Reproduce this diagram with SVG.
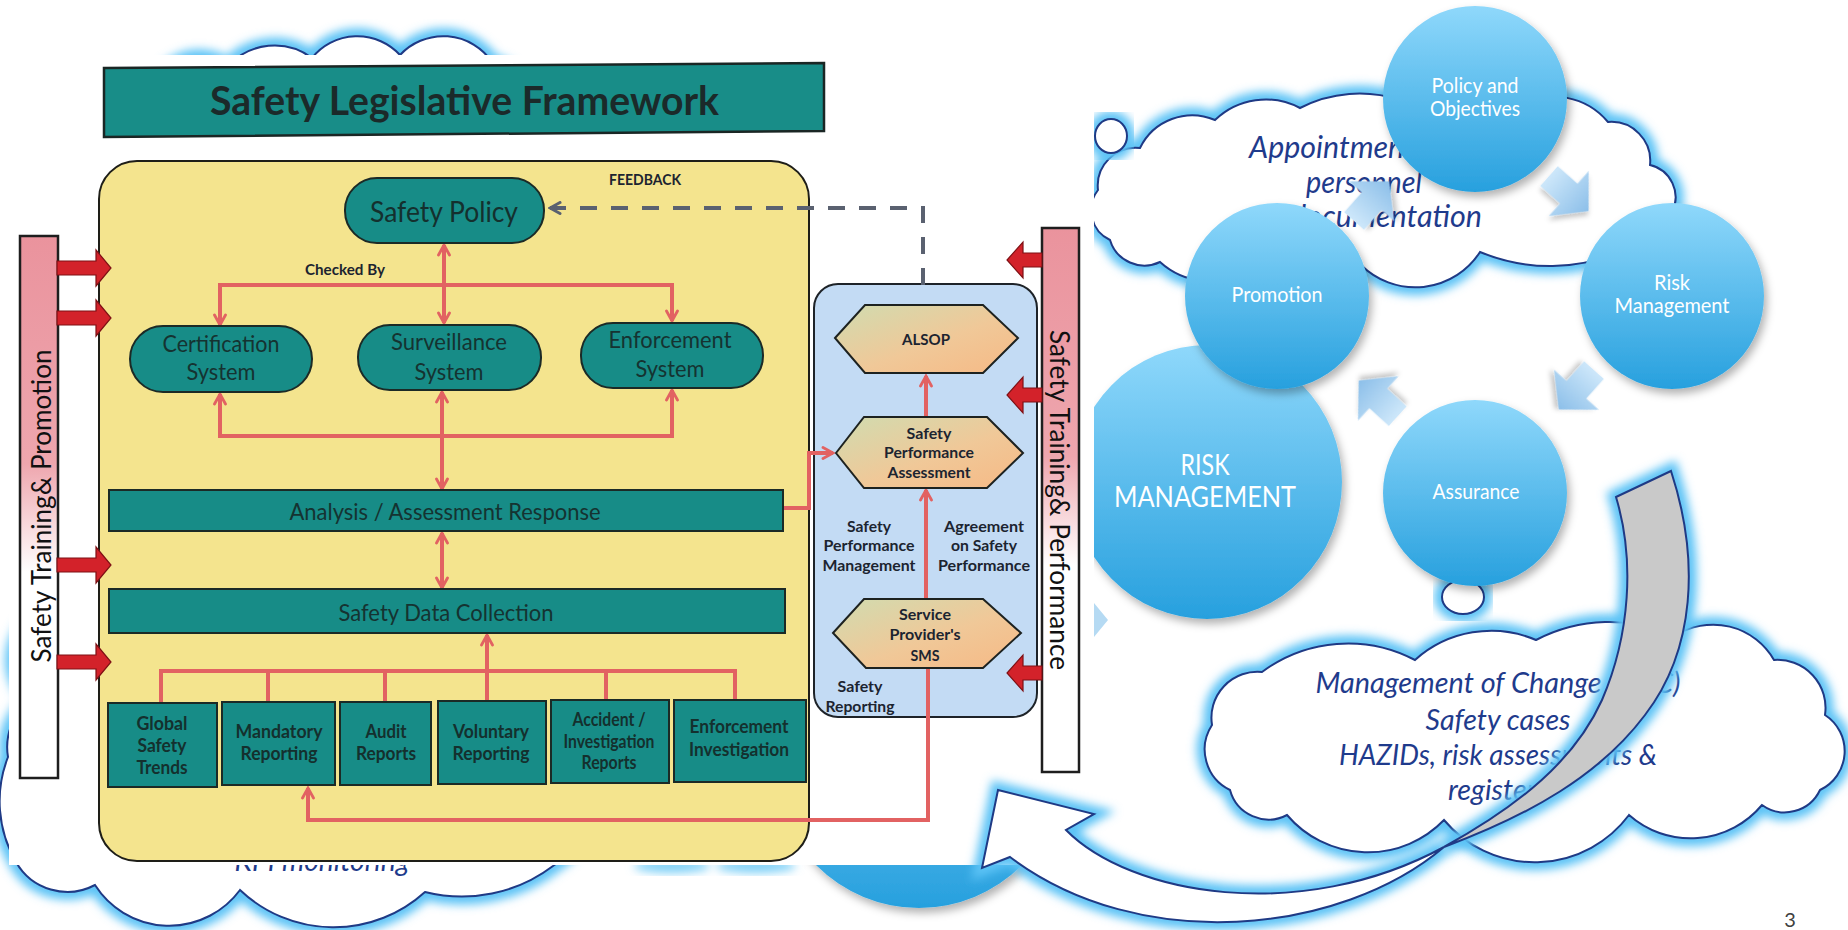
<svg xmlns="http://www.w3.org/2000/svg" width="1848" height="930" viewBox="0 0 1848 930">
<defs>
<style>
.f{font-family:Lato,"Liberation Sans",sans-serif}
.cl{fill:#fff;stroke:#1f3a85;stroke-width:2}
.gl{fill:none;stroke:#5cc3f6;stroke-width:16;filter:url(#blur)}
.circ{fill:url(#gc);filter:url(#sh)}
.ct{font-family:Lato,"Liberation Sans",sans-serif;fill:#fff;text-anchor:middle}
.it{font-family:Lato,"Liberation Sans",sans-serif;font-style:italic;fill:#1f3b8c;text-anchor:middle}
.teal{fill:#178c87;stroke:#1b2a26;stroke-width:2}
.pt{font-family:Lato,"Liberation Sans",sans-serif;fill:#153331;text-anchor:middle;font-size:23px}
.bt{font-family:Lato,"Liberation Sans",sans-serif;font-weight:bold;fill:#14302e;text-anchor:middle;font-size:18px}
.lb{font-family:Lato,"Liberation Sans",sans-serif;font-weight:bold;fill:#1c2430;text-anchor:middle;font-size:16px}
.hex{fill:url(#gh);stroke:#1d2220;stroke-width:2}
.red{fill:none;stroke:#e26262;stroke-width:4}
.tk{fill:#d3222a;stroke:#7e1014;stroke-width:1.2}
.chev{fill:url(#gv);filter:url(#sh2)}
</style>
<linearGradient id="gc" x1="0" y1="0" x2="0" y2="1"><stop offset="0" stop-color="#8fd8fb"/><stop offset="1" stop-color="#27a0de"/></linearGradient>
<linearGradient id="gh" x1="0" y1="0" x2="1" y2="1"><stop offset="0" stop-color="#d0dcb0"/><stop offset="0.55" stop-color="#f0c898"/><stop offset="1" stop-color="#f6b985"/></linearGradient>
<linearGradient id="gp" x1="0" y1="0" x2="0" y2="1"><stop offset="0" stop-color="#ea939d"/><stop offset="0.42" stop-color="#eea6ae"/><stop offset="0.62" stop-color="#ffffff"/><stop offset="1" stop-color="#ffffff"/></linearGradient>
<linearGradient id="gv" x1="0" y1="0" x2="1" y2="0"><stop offset="0" stop-color="#cde7fa"/><stop offset="1" stop-color="#8cbfe9"/></linearGradient>
<filter id="blur" x="-20%" y="-20%" width="140%" height="140%"><feGaussianBlur stdDeviation="5"/></filter>
<filter id="sh" x="-15%" y="-15%" width="135%" height="135%"><feDropShadow dx="3" dy="5" stdDeviation="4" flood-color="#000" flood-opacity="0.3"/></filter>
<filter id="sh2" x="-30%" y="-30%" width="160%" height="160%"><feDropShadow dx="2" dy="3" stdDeviation="2" flood-color="#000" flood-opacity="0.22"/></filter>
<marker id="ra" viewBox="0 0 14 14" refX="12" refY="7" markerWidth="14" markerHeight="14" markerUnits="userSpaceOnUse" orient="auto-start-reverse"><path d="M2,1.5 L12,7 L2,12.5" fill="none" stroke="#e26262" stroke-width="2.8" stroke-linecap="round"/></marker>
<marker id="ga" viewBox="0 0 14 14" refX="12" refY="7" markerWidth="14" markerHeight="14" markerUnits="userSpaceOnUse" orient="auto"><path d="M2,1.5 L12,7 L2,12.5" fill="none" stroke="#5a6170" stroke-width="3" stroke-linecap="round"/></marker>
</defs>
<rect width="1848" height="930" fill="#fff"/>

<!-- background clouds left -->
<g id="cloud-kpi">
<path class="gl" d="M30,700 A60,50 0 0 1 150,620 A90,60 0 0 1 320,600 A90,60 0 0 1 480,620 A60,60 0 0 1 560,700 A100,100 0 0 1 553,866 A151,151 0 0 1 425,892 A136,136 0 0 1 240,890 A88,88 0 0 1 95,885 A59,59 0 0 1 16,862 A121,121 0 0 1 8,757 A60,60 0 0 1 30,700 Z"/>
<path class="cl" d="M30,700 A60,50 0 0 1 150,620 A90,60 0 0 1 320,600 A90,60 0 0 1 480,620 A60,60 0 0 1 560,700 A100,100 0 0 1 553,866 A151,151 0 0 1 425,892 A136,136 0 0 1 240,890 A88,88 0 0 1 95,885 A59,59 0 0 1 16,862 A121,121 0 0 1 8,757 A60,60 0 0 1 30,700 Z"/>
<text class="it" x="322" y="871" font-size="29" textLength="175" lengthAdjust="spacingAndGlyphs">KPI monitoring</text>
</g>
<g id="cloud-top-left">
<path class="gl" d="M150,110 A50,50 0 0 1 228,66 A63,63 0 0 1 312,58 A58,58 0 0 1 400,55 A59,59 0 0 1 492,62 A40,40 0 0 1 520,120 Z"/>
<path class="cl" d="M150,110 A50,50 0 0 1 228,66 A63,63 0 0 1 312,58 A58,58 0 0 1 400,55 A59,59 0 0 1 492,62 A40,40 0 0 1 520,120 Z"/>
</g>
<g id="circle-bottom"><circle cx="919" cy="763" r="145" class="circ"/></g>
<g id="glow-bits" filter="url(#blur)" fill="#7fd0f7">
<ellipse cx="672" cy="866" rx="38" ry="7"/><ellipse cx="756" cy="866" rx="40" ry="7"/>
</g>

<!-- right side clouds -->
<g id="cloud-appointment">
<path class="gl" d="M1110,240 A33,33 0 0 1 1098,190 A38,38 0 0 1 1140,148 A58,58 0 0 1 1215,120 A73,73 0 0 1 1300,108 A130,130 0 0 1 1400,100 A185,185 0 0 1 1520,105 A71,71 0 0 1 1608,122 A39,39 0 0 1 1650,165 A33,33 0 0 1 1672,212 A39,39 0 0 1 1625,250 A183,183 0 0 1 1480,252 A77,77 0 0 1 1361,265 A87,87 0 0 1 1250,270 A75,75 0 0 1 1160,262 A36,36 0 0 1 1110,240 Z"/>
<path class="cl" d="M1110,240 A33,33 0 0 1 1098,190 A38,38 0 0 1 1140,148 A58,58 0 0 1 1215,120 A73,73 0 0 1 1300,108 A130,130 0 0 1 1400,100 A185,185 0 0 1 1520,105 A71,71 0 0 1 1608,122 A39,39 0 0 1 1650,165 A33,33 0 0 1 1672,212 A39,39 0 0 1 1625,250 A183,183 0 0 1 1480,252 A77,77 0 0 1 1361,265 A87,87 0 0 1 1250,270 A75,75 0 0 1 1160,262 A36,36 0 0 1 1110,240 Z"/>
<ellipse cx="1111" cy="136" rx="16" ry="17" class="gl"/>
<ellipse cx="1111" cy="136" rx="16" ry="17" class="cl"/>
<text class="it" font-size="30" x="1249" y="158" style="text-anchor:start" textLength="198" lengthAdjust="spacingAndGlyphs">Appointment of</text>
<text class="it" font-size="30" x="1306" y="193" style="text-anchor:start" textLength="116" lengthAdjust="spacingAndGlyphs">personnel</text>
<text class="it" font-size="30" x="1290" y="227" style="text-anchor:start" textLength="192" lengthAdjust="spacingAndGlyphs">documentation</text>
</g>
<g id="cloud-moc">
<path class="gl" d="M1230,790 A45,45 0 0 1 1212,725 A46,46 0 0 1 1262,672 A144,144 0 0 1 1415,660 A114,114 0 0 1 1536,640 A159,159 0 0 1 1675,636 A70,70 0 0 1 1774,660 A48,48 0 0 1 1825,715 A43,43 0 0 1 1820,790 A39,39 0 0 1 1762,805 A93,93 0 0 1 1629,815 A118,118 0 0 1 1444,820 A106,106 0 0 1 1287,815 A40,40 0 0 1 1230,790 Z"/>
<path class="cl" d="M1230,790 A45,45 0 0 1 1212,725 A46,46 0 0 1 1262,672 A144,144 0 0 1 1415,660 A114,114 0 0 1 1536,640 A159,159 0 0 1 1675,636 A70,70 0 0 1 1774,660 A48,48 0 0 1 1825,715 A43,43 0 0 1 1820,790 A39,39 0 0 1 1762,805 A93,93 0 0 1 1629,815 A118,118 0 0 1 1444,820 A106,106 0 0 1 1287,815 A40,40 0 0 1 1230,790 Z"/>
<ellipse cx="1463" cy="597" rx="21" ry="17" class="gl"/>
<ellipse cx="1463" cy="597" rx="21" ry="17" class="cl"/>
<text class="it" font-size="29" x="1498" y="693" textLength="365" lengthAdjust="spacingAndGlyphs">Management of Change (MoC)</text>
<text class="it" font-size="29" x="1498" y="730" textLength="145" lengthAdjust="spacingAndGlyphs">Safety cases</text>
<text class="it" font-size="29" x="1498" y="765" textLength="318" lengthAdjust="spacingAndGlyphs">HAZIDs, risk assessments &amp;</text>
<text class="it" font-size="29" x="1498" y="800" textLength="100" lengthAdjust="spacingAndGlyphs">registers</text>
</g>

<!-- cycle circles -->
<g id="risk-management">
<ellipse cx="1207" cy="482" rx="135" ry="137" class="circ"/>
<text class="ct" x="1205" y="475" font-size="29" textLength="49" lengthAdjust="spacingAndGlyphs">RISK</text>
<text class="ct" x="1205" y="507" font-size="29" textLength="182" lengthAdjust="spacingAndGlyphs">MANAGEMENT</text>
</g>
<g id="policy">
<ellipse cx="1475" cy="99" rx="92" ry="93" class="circ"/>
<text class="ct" x="1475" y="93" font-size="21" textLength="87" lengthAdjust="spacingAndGlyphs">Policy and</text>
<text class="ct" x="1475" y="116" font-size="21" textLength="90" lengthAdjust="spacingAndGlyphs">Objectives</text>
</g>
<g id="risk">
<ellipse cx="1672" cy="296" rx="92" ry="93" class="circ"/>
<text class="ct" x="1672" y="290" font-size="21" textLength="36" lengthAdjust="spacingAndGlyphs">Risk</text>
<text class="ct" x="1672" y="313" font-size="21" textLength="115" lengthAdjust="spacingAndGlyphs">Management</text>
</g>
<g id="assurance">
<ellipse cx="1475" cy="493" rx="92" ry="93" class="circ"/>
<text class="ct" x="1476" y="499" font-size="21" textLength="87" lengthAdjust="spacingAndGlyphs">Assurance</text>
</g>
<g id="promotion">
<ellipse cx="1277" cy="296" rx="92" ry="93" class="circ"/>
<text class="ct" x="1277" y="302" font-size="21" textLength="91" lengthAdjust="spacingAndGlyphs">Promotion</text>
</g>
<g id="cycle-arrows">
<polygon class="chev" transform="translate(1567,192) rotate(41.5) scale(1.2)" points="-20,-11 2,-11 2,-25 24,0 2,25 2,11 -20,11"/>
<polygon class="chev" transform="translate(1578,388) rotate(131.8) scale(1.2)" points="-20,-11 2,-11 2,-25 24,0 2,25 2,11 -20,11"/>
<polygon class="chev" transform="translate(1380,400) rotate(222.4) scale(1.2)" points="-20,-11 2,-11 2,-25 24,0 2,25 2,11 -20,11"/>
<polygon class="chev" transform="translate(1370,203) rotate(-48.5) scale(1.2)" points="-20,-11 2,-11 2,-25 24,0 2,25 2,11 -20,11"/>
<polygon points="1094,603 1108,620 1094,637" fill="#b5daf3"/>
</g>

<!-- pasted framework picture -->
<g id="framework">
<rect x="9" y="55" width="1085" height="810" fill="#fff"/>
<g id="title">
<polygon points="104,68 824,63 824,131 104,137" fill="#188d88" stroke="#1a2624" stroke-width="2.5"/>
<text class="f" x="210" y="115" font-size="40" font-weight="bold" fill="#1b2a2a" textLength="509" lengthAdjust="spacingAndGlyphs">Safety Legislative Framework</text>
</g>
<path id="state-box" d="M137,161 H771 A38,38 0 0 1 809,199 V823 A38,38 0 0 1 771,861 H137 A38,38 0 0 1 99,823 V199 A38,38 0 0 1 137,161 Z" fill="#f4e48e" stroke="#1e1e18" stroke-width="2"/>
<rect id="provider-box" x="814" y="284" width="223" height="433" rx="24" fill="#c3dbf4" stroke="#1e2328" stroke-width="2"/>

<g id="pink-left">
<rect x="20" y="236" width="38" height="542" fill="url(#gp)" stroke="#1e1e1e" stroke-width="2.5"/>
<text class="f" transform="translate(51,506) rotate(-90)" text-anchor="middle" font-size="26" fill="#111" textLength="313" lengthAdjust="spacingAndGlyphs">Safety Training&amp; Promotion</text>
</g>
<g id="pink-right">
<rect x="1042" y="228" width="37" height="544" fill="url(#gp)" stroke="#1e1e1e" stroke-width="2.5"/>
<text class="f" transform="translate(1050,500) rotate(90)" text-anchor="middle" font-size="26" fill="#111" textLength="340" lengthAdjust="spacingAndGlyphs">Safety Training&amp; Performance</text>
</g>
<g id="thick-arrows">
<polygon class="tk" points="57,261 96,261 96,250 111,268 96,286 96,275 57,275"/>
<polygon class="tk" points="57,311 96,311 96,300 111,318 96,336 96,325 57,325"/>
<polygon class="tk" points="57,558 96,558 96,547 111,565 96,583 96,572 57,572"/>
<polygon class="tk" points="57,655 96,655 96,644 111,662 96,680 96,669 57,669"/>
<polygon class="tk" points="1042,253 1023,253 1023,242 1007,260 1023,278 1023,267 1042,267"/>
<polygon class="tk" points="1042,388 1023,388 1023,377 1007,395 1023,413 1023,402 1042,402"/>
<polygon class="tk" points="1042,666 1023,666 1023,655 1007,673 1023,691 1023,680 1042,680"/>
</g>

<g id="connectors">
<path d="M923,285 V208 H550" fill="none" stroke="#5a6170" stroke-width="4" stroke-dasharray="17 14" marker-end="url(#ga)"/>
<path class="red" d="M444,245 V323" marker-start="url(#ra)" marker-end="url(#ra)"/>
<path class="red" d="M220,325 V285 H672 V321" marker-start="url(#ra)" marker-end="url(#ra)"/>
<path class="red" d="M220,394 V436 H672 V390" marker-start="url(#ra)" marker-end="url(#ra)"/>
<path class="red" d="M442,392 V489" marker-start="url(#ra)" marker-end="url(#ra)"/>
<path class="red" d="M442,533 V588" marker-start="url(#ra)" marker-end="url(#ra)"/>
<path class="red" d="M161,702 V671 H735 V702 M268,671 V702 M385,671 V702 M606,671 V702"/>
<path class="red" d="M487,702 V635" marker-end="url(#ra)"/>
<path class="red" d="M928,668 V820 H308 V788" marker-end="url(#ra)"/>
<path class="red" d="M769,508 H809 V453 H833" marker-start="url(#ra)" marker-end="url(#ra)"/>
<path class="red" d="M926,417 V376" marker-end="url(#ra)"/>
<path class="red" d="M926,599 V490" marker-end="url(#ra)"/>
</g>

<g id="safety-policy">
<rect x="345" y="178" width="199" height="65" rx="32" class="teal"/>
<text class="f" x="370" y="222" font-size="28" fill="#14302e" textLength="148" lengthAdjust="spacingAndGlyphs">Safety Policy</text>
</g>
<text class="lb" x="345" y="275" textLength="80" lengthAdjust="spacingAndGlyphs">Checked By</text>
<text class="lb" x="645" y="185" textLength="72" lengthAdjust="spacingAndGlyphs">FEEDBACK</text>

<g id="certification">
<rect x="130" y="326" width="182" height="66" rx="33" class="teal"/>
<text class="pt" x="221" y="352" textLength="117" lengthAdjust="spacingAndGlyphs">Certification</text>
<text class="pt" x="221" y="380" textLength="69" lengthAdjust="spacingAndGlyphs">System</text>
</g>
<g id="surveillance">
<rect x="358" y="325" width="183" height="65" rx="32" class="teal"/>
<text class="pt" x="449" y="350" textLength="116" lengthAdjust="spacingAndGlyphs">Surveillance</text>
<text class="pt" x="449" y="380" textLength="69" lengthAdjust="spacingAndGlyphs">System</text>
</g>
<g id="enforcement">
<rect x="581" y="323" width="182" height="65" rx="32" class="teal"/>
<text class="pt" x="670" y="348" textLength="123" lengthAdjust="spacingAndGlyphs">Enforcement</text>
<text class="pt" x="670" y="377" textLength="69" lengthAdjust="spacingAndGlyphs">System</text>
</g>
<g id="analysis">
<rect x="109" y="490" width="674" height="41" class="teal"/>
<text class="pt" x="445" y="520" textLength="311" lengthAdjust="spacingAndGlyphs">Analysis / Assessment  Response</text>
</g>
<g id="data-collection">
<rect x="109" y="589" width="676" height="44" class="teal"/>
<text class="pt" x="446" y="621" textLength="215" lengthAdjust="spacingAndGlyphs">Safety  Data Collection</text>
</g>

<g id="global">
<rect x="108" y="703" width="109" height="84" class="teal"/>
<text class="bt" x="162" y="730" textLength="51" lengthAdjust="spacingAndGlyphs">Global</text>
<text class="bt" x="162" y="752" textLength="49" lengthAdjust="spacingAndGlyphs">Safety</text>
<text class="bt" x="162" y="774" textLength="51" lengthAdjust="spacingAndGlyphs">Trends</text>
</g>
<g id="mandatory">
<rect x="222" y="702" width="113" height="83" class="teal"/>
<text class="bt" x="279" y="738" textLength="87" lengthAdjust="spacingAndGlyphs">Mandatory</text>
<text class="bt" x="279" y="760" textLength="77" lengthAdjust="spacingAndGlyphs">Reporting</text>
</g>
<g id="audit">
<rect x="340" y="702" width="91" height="83" class="teal"/>
<text class="bt" x="386" y="738" textLength="41" lengthAdjust="spacingAndGlyphs">Audit</text>
<text class="bt" x="386" y="760" textLength="60" lengthAdjust="spacingAndGlyphs">Reports</text>
</g>
<g id="voluntary">
<rect x="438" y="701" width="108" height="83" class="teal"/>
<text class="bt" x="491" y="738" textLength="76" lengthAdjust="spacingAndGlyphs">Voluntary</text>
<text class="bt" x="491" y="760" textLength="77" lengthAdjust="spacingAndGlyphs">Reporting</text>
</g>
<g id="accident">
<rect x="551" y="700" width="118" height="83" class="teal"/>
<text class="bt" x="609" y="726" font-size="16" textLength="73" lengthAdjust="spacingAndGlyphs">Accident /</text>
<text class="bt" x="609" y="748" font-size="16" textLength="91" lengthAdjust="spacingAndGlyphs">Investigation</text>
<text class="bt" x="609" y="769" font-size="16" textLength="55" lengthAdjust="spacingAndGlyphs">Reports</text>
</g>
<g id="enf-investigation">
<rect x="674" y="700" width="132" height="82" class="teal"/>
<text class="bt" x="739" y="733" textLength="99" lengthAdjust="spacingAndGlyphs">Enforcement</text>
<text class="bt" x="739" y="756" textLength="100" lengthAdjust="spacingAndGlyphs">Investigation</text>
</g>

<g id="alsop">
<polygon class="hex" points="835,338 865,305 983,305 1018,338 983,373 865,373"/>
<text class="lb" x="926" y="345" font-size="17" textLength="48" lengthAdjust="spacingAndGlyphs">ALSOP</text>
</g>
<g id="spa">
<polygon class="hex" points="836,453 864,417 987,417 1023,453 987,488 864,488"/>
<text class="lb" x="929" y="439" textLength="45" lengthAdjust="spacingAndGlyphs">Safety</text>
<text class="lb" x="929" y="458" textLength="90" lengthAdjust="spacingAndGlyphs">Performance</text>
<text class="lb" x="929" y="478" textLength="83" lengthAdjust="spacingAndGlyphs">Assessment</text>
</g>
<g id="sms">
<polygon class="hex" points="833,633 864,599 983,599 1021,633 983,668 866,668"/>
<text class="lb" x="925" y="620" textLength="52" lengthAdjust="spacingAndGlyphs">Service</text>
<text class="lb" x="925" y="640" textLength="71" lengthAdjust="spacingAndGlyphs">Provider's</text>
<text class="lb" x="925" y="661" textLength="29" lengthAdjust="spacingAndGlyphs">SMS</text>
</g>
<g id="provider-labels">
<text class="lb" x="869" y="532" textLength="44" lengthAdjust="spacingAndGlyphs">Safety</text>
<text class="lb" x="869" y="551" textLength="91" lengthAdjust="spacingAndGlyphs">Performance</text>
<text class="lb" x="869" y="571" textLength="93" lengthAdjust="spacingAndGlyphs">Management</text>
<text class="lb" x="984" y="532" textLength="80" lengthAdjust="spacingAndGlyphs">Agreement</text>
<text class="lb" x="984" y="551" textLength="66" lengthAdjust="spacingAndGlyphs">on Safety</text>
<text class="lb" x="984" y="571" textLength="92" lengthAdjust="spacingAndGlyphs">Performance</text>
<text class="lb" x="860" y="692" textLength="45" lengthAdjust="spacingAndGlyphs">Safety</text>
<text class="lb" x="860" y="712" textLength="69" lengthAdjust="spacingAndGlyphs">Reporting</text>
</g>
</g>

<!-- big curved arrow -->
<g id="curved-arrow">
<path class="gl" d="M998,790 L1094,814 L1066,830 C1130,895 1300,925 1444,847 C1340,935 1140,955 1010,857 L982,868 Z"/>
<path class="gl" d="M1616,497 L1671,471 C1700,560 1695,650 1645,715 C1600,775 1530,815 1444,847 C1520,805 1575,760 1602,700 C1630,635 1635,560 1616,497 Z"/>
<path d="M1616,497 L1671,471 C1700,560 1695,650 1645,715 C1600,775 1530,815 1444,847 C1520,805 1575,760 1602,700 C1630,635 1635,560 1616,497 Z" fill="#c9c9c9" stroke="#1f3a85" stroke-width="2"/>
<path d="M998,790 L1094,814 L1066,830 C1130,895 1300,925 1444,847 C1340,935 1140,955 1010,857 L982,868 Z" fill="#fff" stroke="#1f3a85" stroke-width="2"/>
</g>
<text class="f" x="1790" y="927" font-size="20" fill="#404040" text-anchor="middle">3</text>
</svg>
